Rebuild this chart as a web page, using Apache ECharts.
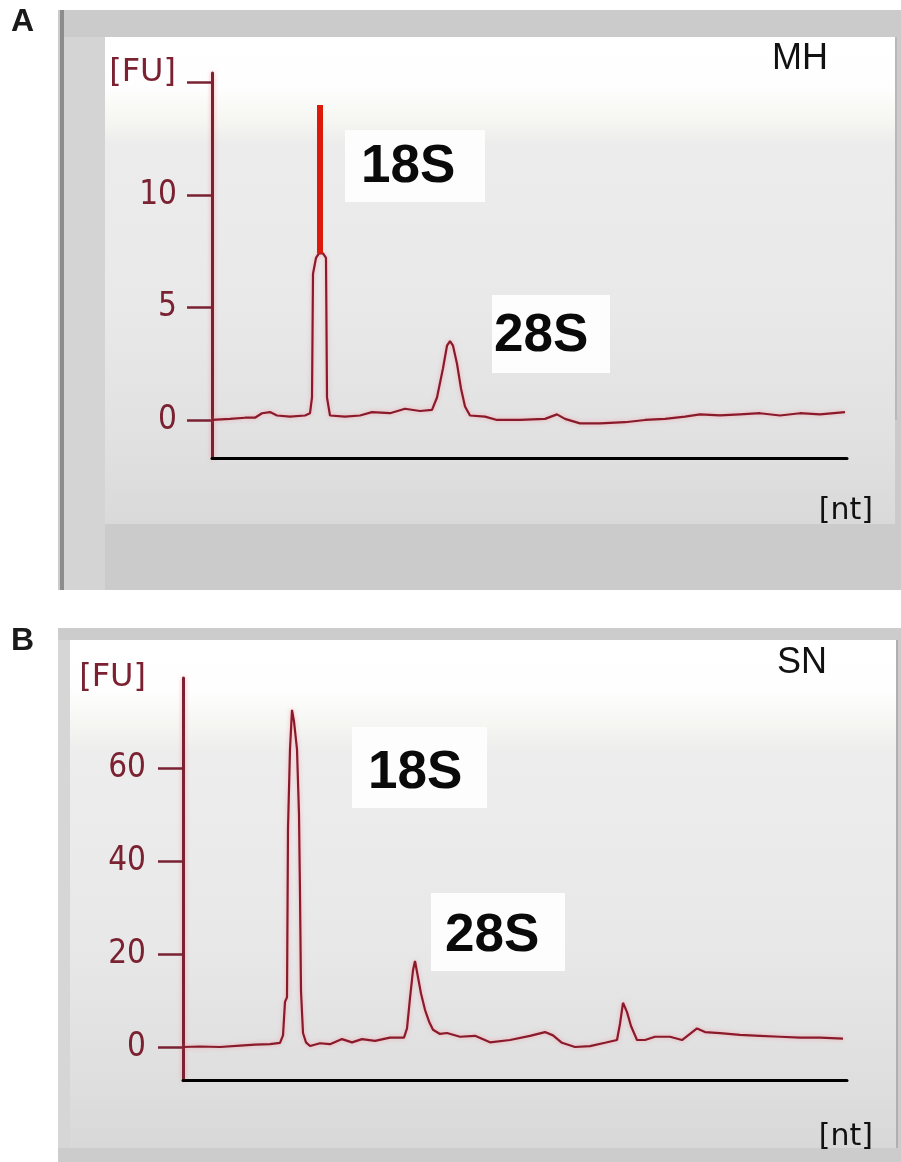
<!DOCTYPE html>
<html>
<head>
<meta charset="utf-8">
<script src="https://cdn.jsdelivr.net/npm/echarts@6/dist/echarts.min.js"></script>
<style>
  html, body { margin: 0; padding: 0; background: #ffffff; }
  #chart { width: 901px; height: 1162px; }
</style>
</head>
<body>
<div id="chart"></div>
<script>
// ---------- Panel A (MH) ----------
const posA = [0, 18, 33, 43, 50, 58, 65, 78, 93, 98, 100, 101, 104, 107, 111, 114, 115, 118, 133, 148, 160, 178, 193, 208, 220, 225, 231, 235, 238, 241, 245, 249, 253, 258, 273, 285, 308, 333, 345, 353, 368, 388, 413, 433, 453, 473, 488, 508, 528, 548, 568, 588, 608, 633];
const fuA  = [0.0, 0.05, 0.1, 0.1, 0.3, 0.35, 0.2, 0.15, 0.2, 0.3, 1.0, 6.5, 7.2, 7.4, 7.4, 7.2, 1.0, 0.2, 0.15, 0.2, 0.35, 0.3, 0.5, 0.4, 0.45, 1.0, 2.3, 3.3, 3.5, 3.3, 2.5, 1.4, 0.6, 0.2, 0.15, 0.0, 0.0, 0.05, 0.25, 0.05, -0.15, -0.15, -0.1, 0.0, 0.05, 0.15, 0.25, 0.2, 0.25, 0.3, 0.2, 0.3, 0.25, 0.35];
const markerPosA = [108, 108];
const markerFuA  = [7.4, 14.0];
const yTicksA  = [0, 5, 10, 15];
const yLabelsA = [0, 5, 10];

// ---------- Panel B (SN) ----------
const posB = [0, 17, 37, 57, 72, 87, 97, 100, 102, 104, 105, 107, 109, 111, 114, 116, 117, 118, 120, 123, 127, 137, 147, 159, 169, 179, 192, 207, 221, 224, 227, 230, 232, 235, 238, 242, 246, 250, 257, 264, 277, 292, 307, 327, 347, 362, 370, 379, 392, 407, 422, 434, 437, 440, 444, 448, 454, 462, 472, 487, 499, 507, 514, 522, 537, 557, 577, 597, 617, 637, 660];
const fuB  = [0.0, 0.1, 0.0, 0.3, 0.5, 0.6, 0.9, 2.5, 9.7, 10.7, 47, 64, 72.5, 70, 64, 50, 33, 12, 3, 1.0, 0.2, 0.8, 0.6, 1.7, 1.0, 1.7, 1.3, 2.0, 2.0, 4.0, 10.5, 16.5, 18.5, 15, 11.5, 8, 5.5, 3.7, 2.8, 3.0, 2.2, 2.4, 1.0, 1.5, 2.4, 3.2, 2.5, 0.9, 0.0, 0.2, 0.9, 1.5, 5, 9.5, 7.5, 4.5, 1.5, 1.5, 2.2, 2.2, 1.5, 2.8, 4.0, 3.2, 3.0, 2.6, 2.4, 2.2, 2.0, 2.0, 1.8];
const yTicksB = [0, 20, 40, 60];

const panelLabels = ['A', 'B'];
const sampleNames = ['MH', 'SN'];
const peakNames = ['18S', '28S'];
const yUnit = '[FU]';
const xUnit = '[nt]';

const pairs = (xs, ys) => xs.map((x, i) => [x, ys[i]]);

const maroon = '#7a2232';
const traceColor = '#8a1a2a';
const labelFont = '"DejaVu Sans Condensed", "DejaVu Sans", sans-serif';

function grad(stops) {
  return { type: 'linear', x: 0, y: 0, x2: 0, y2: 1, colorStops: stops.map(s => ({ offset: s[0], color: s[1] })) };
}

function peakBox(x, y, w, h, tx, ty, text) {
  return [
    { type: 'rect', z: 5, shape: { x: x, y: y, width: w, height: h }, style: { fill: '#fdfdfd' } },
    { type: 'text', z: 6, x: tx, y: ty, style: { text: text, font: 'bold 53px "Liberation Sans", Arial, sans-serif', fill: '#0a0a0a', textAlign: 'left', textVerticalAlign: 'middle' } }
  ];
}

const graphics = [
  // Panel A background
  { type: 'rect', z: -10, shape: { x: 58, y: 10, width: 843, height: 580 }, style: { fill: '#cbcbcb' } },
  { type: 'rect', z: -9, shape: { x: 64, y: 37, width: 41, height: 553 }, style: { fill: '#d4d4d4' } },
  { type: 'rect', z: -9, shape: { x: 60, y: 10, width: 4, height: 580 }, style: { fill: '#8c8c8c' } },
  { type: 'rect', z: -8, shape: { x: 105, y: 37, width: 790, height: 487 }, style: { fill: grad([[0, '#ffffff'], [0.1, '#fefefe'], [0.17, '#f6f6f2'], [0.22, '#ececec'], [0.55, '#e9e9e9'], [0.85, '#e0e0e0'], [1, '#d9d9d9']]) } },
  { type: 'rect', z: -7, shape: { x: 895, y: 37, width: 2, height: 383 }, style: { fill: '#b8b8b8' } },
  // Panel B background
  { type: 'rect', z: -10, shape: { x: 58, y: 628, width: 843, height: 534 }, style: { fill: '#cccccc' } },
  { type: 'rect', z: -9, shape: { x: 58, y: 640, width: 12, height: 508 }, style: { fill: '#d6d6d6' } },
  { type: 'rect', z: -8, shape: { x: 70, y: 640, width: 827, height: 508 }, style: { fill: grad([[0, '#ffffff'], [0.1, '#fefefe'], [0.17, '#f5f5f2'], [0.22, '#ededed'], [0.6, '#e8e8e8'], [0.88, '#dedede'], [1, '#d8d8d8']]) } },
  { type: 'rect', z: -7, shape: { x: 896, y: 640, width: 2, height: 508 }, style: { fill: '#b0b0b0' } },

  // Panel letters
  { type: 'text', z: 10, x: 11, y: 22, style: { text: panelLabels[0], font: 'bold 32px "Liberation Sans", Arial, sans-serif', fill: '#1a1a1a', textVerticalAlign: 'middle' } },
  { type: 'text', z: 10, x: 11, y: 641, style: { text: panelLabels[1], font: 'bold 32px "Liberation Sans", Arial, sans-serif', fill: '#1a1a1a', textVerticalAlign: 'middle' } },

  // Sample names
  { type: 'text', z: 10, x: 772, y: 59, style: { text: sampleNames[0], font: '36px "Liberation Sans", Arial, sans-serif', fill: '#111111', textVerticalAlign: 'middle' } },
  { type: 'text', z: 10, x: 777, y: 663, style: { text: sampleNames[1], font: '36px "Liberation Sans", Arial, sans-serif', fill: '#111111', textVerticalAlign: 'middle' } },

  // Unit labels
  { type: 'text', z: 10, x: 176, y: 73, style: { text: yUnit, font: '32px "DejaVu Sans", sans-serif', fill: maroon, textAlign: 'right', textVerticalAlign: 'middle' } },
  { type: 'text', z: 10, x: 146, y: 678, style: { text: yUnit, font: '32px "DejaVu Sans", sans-serif', fill: maroon, textAlign: 'right', textVerticalAlign: 'middle' } },
  { type: 'text', z: 10, x: 873, y: 511, style: { text: xUnit, font: '30px "DejaVu Sans", sans-serif', fill: '#111111', textAlign: 'right', textVerticalAlign: 'middle' } },
  { type: 'text', z: 10, x: 873, y: 1137, style: { text: xUnit, font: '30px "DejaVu Sans", sans-serif', fill: '#111111', textAlign: 'right', textVerticalAlign: 'middle' } }
].concat(
  peakBox(345, 130, 140, 72, 361, 167, peakNames[0]),
  peakBox(492, 295, 118, 78, 494, 336, peakNames[1]),
  peakBox(352, 727, 135, 81, 368, 773, peakNames[0]),
  peakBox(431, 893, 134, 78, 445, 936, peakNames[1])
);

function yAxisCfg(gridIndex, min, max, ticks, labels, margin, fs) {
  return {
    type: 'value', gridIndex: gridIndex, min: min, max: max,
    splitLine: { show: false },
    axisLine: { show: true, onZero: false, lineStyle: { color: maroon, width: 3, shadowColor: 'rgba(255,140,150,0.7)', shadowBlur: 4 } },
    axisTick: { show: true, inside: false, length: 25, lineStyle: { color: maroon, width: 2.5 }, customValues: ticks },
    axisLabel: { show: true, margin: margin, color: maroon, fontSize: fs, fontFamily: labelFont, customValues: labels }
  };
}

function xAxisCfg(gridIndex, max) {
  return {
    type: 'value', gridIndex: gridIndex, min: 0, max: max,
    splitLine: { show: false },
    axisLine: { show: true, onZero: false, lineStyle: { color: '#000000', width: 3 } },
    axisTick: { show: false },
    axisLabel: { show: false }
  };
}

const lineStyle = { color: traceColor, width: 2.2, shadowColor: 'rgba(255,120,140,0.55)', shadowBlur: 4 };

const option = {
  animation: false,
  backgroundColor: '#ffffff',
  graphic: graphics,
  grid: [
    { left: 212, top: 73, width: 635, height: 385 },
    { left: 183, top: 678, width: 664, height: 402 }
  ],
  xAxis: [xAxisCfg(0, 635), xAxisCfg(1, 664)],
  yAxis: [
    yAxisCfg(0, -1.69, 15.42, yTicksA, yLabelsA, 35, 33),
    yAxisCfg(1, -7.1, 79.35, yTicksB, yTicksB, 37, 33)
  ],
  series: [
    { type: 'line', xAxisIndex: 0, yAxisIndex: 0, data: pairs(posA, fuA), showSymbol: false, symbol: 'none', lineStyle: lineStyle, z: 3 },
    { type: 'line', xAxisIndex: 0, yAxisIndex: 0, data: pairs(markerPosA, markerFuA), showSymbol: false, symbol: 'none', lineStyle: { color: '#dc1a0a', width: 6 }, z: 4 },
    { type: 'line', xAxisIndex: 1, yAxisIndex: 1, data: pairs(posB, fuB), showSymbol: false, symbol: 'none', lineStyle: lineStyle, z: 3 }
  ]
};

const chart = echarts.init(document.getElementById('chart'), null, { renderer: 'canvas' });
chart.setOption(option);
</script>
</body>
</html>
